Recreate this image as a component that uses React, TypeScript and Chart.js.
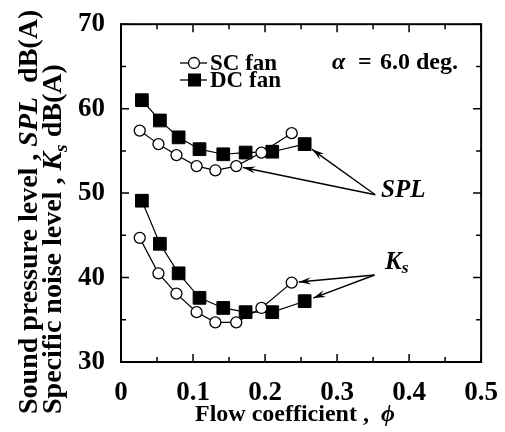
import React, { useEffect, useRef } from "react";
import { Chart, registerables } from "chart.js";

Chart.register(...registerables);

// ---- data ----
const scPhi = [0.026, 0.052, 0.077, 0.105, 0.131, 0.16, 0.195, 0.237];
const scSPL = [57.4, 55.8, 54.5, 53.2, 52.7, 53.2, 54.8, 57.1];
const scKs = [44.7, 40.5, 38.1, 35.9, 34.7, 34.7, 36.4, 39.4];
const dcPhi = [0.029, 0.054, 0.08, 0.109, 0.142, 0.173, 0.21, 0.255];
const dcSPL = [61.0, 58.6, 56.6, 55.2, 54.6, 54.8, 54.9, 55.8];
const dcKs = [49.1, 44.0, 40.5, 37.6, 36.4, 35.9, 35.9, 37.2];
const xTicks = [0, 0.1, 0.2, 0.3, 0.4, 0.5];
const xTickLabels = ["0", "0.1", "0.2", "0.3", "0.4", "0.5"];
const yTicks = [30, 40, 50, 60, 70];
const legendLabels = ["SC fan", "DC fan"];

const SERIF = '"Liberation Serif", "Times New Roman", serif';

const toXY = (xs: number[], ys: number[]) => xs.map((x, i) => ({ x, y: ys[i] }));

type Seg = { t: string; italic?: boolean; sub?: boolean };

function drawSegs(ctx: CanvasRenderingContext2D, segs: Seg[], x: number, y: number, size: number, weight = "bold") {
  let cx = x;
  for (const s of segs) {
    const fs = s.sub ? size * 0.7 : size;
    ctx.font = `${s.italic ? "italic " : ""}${weight} ${fs}px ${SERIF}`;
    ctx.fillText(s.t, cx, y + (s.sub ? size * 0.22 : 0));
    cx += ctx.measureText(s.t).width;
  }
}

function arrow(ctx: CanvasRenderingContext2D, x0: number, y0: number, x1: number, y1: number, gap: number) {
  const dx = x1 - x0, dy = y1 - y0;
  const len = Math.hypot(dx, dy);
  const ux = dx / len, uy = dy / len;
  const tx = x1 - ux * gap, ty = y1 - uy * gap;
  ctx.beginPath();
  ctx.moveTo(x0, y0);
  ctx.lineTo(tx, ty);
  ctx.stroke();
  const hl = 13, ang = 0.28;
  const a = Math.atan2(uy, ux);
  ctx.beginPath();
  ctx.moveTo(tx, ty);
  ctx.lineTo(tx - hl * Math.cos(a - ang), ty - hl * Math.sin(a - ang));
  ctx.lineTo(tx - hl * 0.6 * Math.cos(a), ty - hl * 0.6 * Math.sin(a));
  ctx.lineTo(tx - hl * Math.cos(a + ang), ty - hl * Math.sin(a + ang));
  ctx.closePath();
  ctx.fill();
}

const decor = {
  id: "decor",
  afterDraw(chart: any) {
    const ctx: CanvasRenderingContext2D = chart.ctx;
    const xs = chart.scales.x, ys = chart.scales.y;
    const ca = chart.chartArea;
    ctx.save();
    ctx.strokeStyle = "#000";
    ctx.fillStyle = "#000";
    // frame
    ctx.lineWidth = 2;
    ctx.strokeRect(ca.left, ca.top, ca.right - ca.left, ca.bottom - ca.top);
    // inward ticks
    ctx.lineWidth = 1.5;
    ctx.beginPath();
    for (let v = 0; v <= 0.5001; v += 0.05) {
      const major = Math.abs(v * 10 - Math.round(v * 10)) < 1e-6;
      const L = major ? 8 : 5;
      const px = xs.getPixelForValue(v);
      ctx.moveTo(px, ca.bottom); ctx.lineTo(px, ca.bottom - L);
      ctx.moveTo(px, ca.top); ctx.lineTo(px, ca.top + L);
    }
    for (let v = 30; v <= 70; v += 5) {
      const major = v % 10 === 0;
      const L = major ? 8 : 5;
      const py = ys.getPixelForValue(v);
      ctx.moveTo(ca.left, py); ctx.lineTo(ca.left + L, py);
      ctx.moveTo(ca.right, py); ctx.lineTo(ca.right - L, py);
    }
    ctx.stroke();

    // legend
    const ly = [63, 80];
    ctx.lineWidth = 1.3;
    ctx.textBaseline = "middle";
    ctx.textAlign = "left";
    legendLabels.forEach((lab, i) => {
      ctx.beginPath();
      ctx.moveTo(180, ly[i]); ctx.lineTo(207, ly[i]);
      ctx.stroke();
      if (i === 0) {
        ctx.beginPath();
        ctx.arc(194, ly[i], 5.5, 0, Math.PI * 2);
        ctx.fillStyle = "#fff"; ctx.fill();
        ctx.fillStyle = "#000"; ctx.stroke();
      } else {
        ctx.fillRect(188, ly[i] - 6.5, 13, 13);
      }
      ctx.font = `bold 23px ${SERIF}`;
      ctx.fillText(lab, 210, ly[i] + 1);
    });
    drawSegs(ctx, [{ t: "α", italic: true }], 332, 63, 24);
    drawSegs(ctx, [{ t: "=" }], 358, 63, 24);
    drawSegs(ctx, [{ t: "6.0 deg." }], 380, 63, 24);

    // annotations
    ctx.lineWidth = 1.4;
    const p = (x: number, y: number) => [xs.getPixelForValue(x), ys.getPixelForValue(y)];
    const [sx, sy] = p(0.353, 49.8);
    const [a1x, a1y] = p(scPhi[5], scSPL[5]);
    const [a2x, a2y] = p(dcPhi[7], dcSPL[7]);
    arrow(ctx, sx, sy, a1x, a1y, 7);
    arrow(ctx, sx, sy, a2x, a2y, 9);
    drawSegs(ctx, [{ t: "SPL", italic: true }], 381, 191, 25);
    const [kx, ky] = p(0.352, 40.3);
    const [b1x, b1y] = p(scPhi[7], scKs[7]);
    const [b2x, b2y] = p(dcPhi[7], dcKs[7]);
    arrow(ctx, kx, ky, b1x, b1y, 7);
    arrow(ctx, kx, ky, b2x, b2y, 9);
    drawSegs(ctx, [{ t: "K", italic: true }, { t: "s", italic: true, sub: true }], 385, 263, 25);

    // x title
    drawSegs(ctx, [{ t: "Flow coefficient ,  " }, { t: "ϕ", italic: true }], 195, 415, 24);

    // y title
    ctx.textBaseline = "alphabetic";
    const lines: Seg[][] = [
      [{ t: "Sound pressure level , " }, { t: "SPL", italic: true }, { t: "  dB(A)" }],
      [{ t: "Specific noise level , " }, { t: "K", italic: true }, { t: "s", italic: true, sub: true }, { t: " dB(A)" }],
    ];
    const lx = [37, 61];
    lines.forEach((segs, i) => {
      ctx.save();
      ctx.translate(lx[i], 414);
      ctx.rotate(-Math.PI / 2);
      drawSegs(ctx, segs, 0, 0, 28);
      ctx.restore();
    });
    ctx.restore();
  },
};

export default function App() {
  const ref = useRef<HTMLCanvasElement>(null);
  useEffect(() => {
    if (!ref.current) return;
    const circ = { pointStyle: "circle", pointRadius: 5.5, pointBackgroundColor: "#fff", pointBorderColor: "#000", pointBorderWidth: 1.3 };
    const sq = { pointStyle: "rect", pointRadius: 9, pointBackgroundColor: "#000", pointBorderColor: "#000", pointBorderWidth: 1 };
    const line = { showLine: true, borderColor: "#000", borderWidth: 1.2, fill: false };
    const chart = new Chart(ref.current, {
      type: "scatter",
      data: {
        datasets: [
          { label: "SC fan SPL", data: toXY(scPhi, scSPL), ...line, ...circ, order: 1 },
          { label: "DC fan SPL", data: toXY(dcPhi, dcSPL), ...line, ...sq, order: 2 },
          { label: "SC fan Ks", data: toXY(scPhi, scKs), ...line, ...circ, order: 1 },
          { label: "DC fan Ks", data: toXY(dcPhi, dcKs), ...line, ...sq, order: 2 },
        ] as any,
      },
      options: {
        animation: false,
        responsive: false,
        layout: { padding: { top: 18, right: 23, left: 0, bottom: 0 } },
        plugins: { legend: { display: false }, tooltip: { enabled: false } },
        scales: {
          x: {
            type: "linear", min: 0, max: 0.5,
            afterBuildTicks: (s: any) => { s.ticks = xTicks.map((v) => ({ value: v })); },
            afterFit: (s: any) => { s.height = 70; },
            ticks: {
              callback: (v: any) => xTickLabels[xTicks.indexOf(Number(v))] ?? "",
              color: "#000", padding: 7, maxRotation: 0,
              font: { family: SERIF, size: 27, weight: "bold" },
            },
            grid: { display: false }, border: { display: false },
          },
          y: {
            type: "linear", min: 30, max: 70,
            afterBuildTicks: (s: any) => { s.ticks = yTicks.map((v) => ({ value: v })); },
            afterFit: (s: any) => { s.width = 121; },
            ticks: {
              color: "#000", padding: 8,
              font: { family: SERIF, size: 27, weight: "bold" },
            },
            grid: { display: false }, border: { display: false },
          },
        },
      } as any,
      plugins: [decor],
    });
    return () => chart.destroy();
  }, []);
  return (
    <div style={{ position: "absolute", left: 0, top: 0, width: 505, height: 432, background: "#fff" }}>
      <canvas ref={ref} width={505} height={432} style={{ width: 505, height: 432 }} />
    </div>
  );
}
